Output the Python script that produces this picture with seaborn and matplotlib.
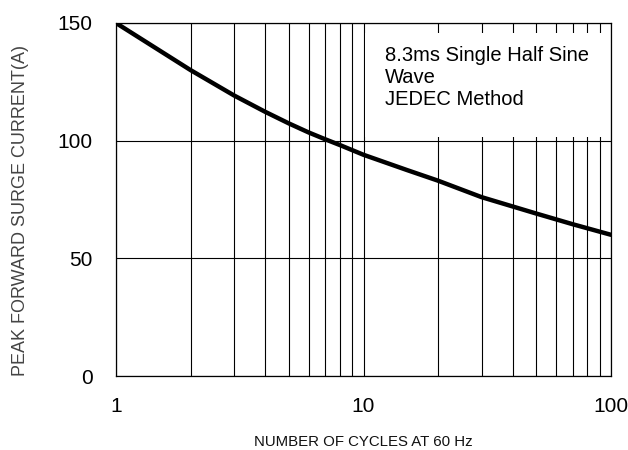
import pandas as pd
import matplotlib
matplotlib.use("Agg")
import matplotlib.pyplot as plt
import seaborn as sns
from matplotlib.patches import Rectangle
from matplotlib.ticker import FixedLocator, LogLocator, NullFormatter

# данные
cycles = [1, 2, 3, 4, 5, 6, 7, 8, 10, 15, 20, 30, 50, 70, 100]
current = [150, 130, 119.2, 112.3, 107.3, 103.5, 100.6, 98.2, 94, 87.5, 83, 76, 69, 64.5, 60]
x_ticks = [1, 10, 100]
x_tick_labels = ["1", "10", "100"]
y_ticks = [0, 50, 100, 150]
note = "8.3ms Single Half Sine\nWave\nJEDEC Method"

sns.set_style("white")
plt.rcParams["font.family"] = ["Liberation Sans", "DejaVu Sans"]

df = pd.DataFrame({"cycles": cycles, "current": current})

fig = plt.figure(figsize=(6.28, 4.5), dpi=100)
ax = fig.add_axes([116 / 628, 74 / 450, 495 / 628, 353 / 450])

ax.set_xscale("log")
ax.set_xlim(1, 100)
ax.set_ylim(0, 150)
ax.xaxis.set_major_locator(FixedLocator(x_ticks))
ax.xaxis.set_minor_locator(LogLocator(base=10, subs=range(2, 10)))
ax.xaxis.set_minor_formatter(NullFormatter())
ax.set_xticks(x_ticks)
ax.set_xticklabels(x_tick_labels)
ax.set_yticks(y_ticks)
ax.grid(True, which="both", axis="x", color="black", linewidth=0.8)
ax.grid(True, which="major", axis="y", color="black", linewidth=0.8)
ax.set_axisbelow(True)

# белая подложка под подписью (перекрывает сетку)
ax.add_patch(Rectangle((0.503, 0.678), 0.49, 0.294, transform=ax.transAxes,
                       facecolor="white", edgecolor="none", zorder=2))

sns.lineplot(data=df, x="cycles", y="current", color="black", linewidth=3.2, ax=ax, zorder=4)

for s in ax.spines.values():
    s.set_color("black")
    s.set_linewidth(0.9)

ax.tick_params(axis="both", which="both", length=0, labelsize=15, labelcolor="black")
ax.tick_params(axis="x", pad=15)
ax.tick_params(axis="y", pad=17)

ax.set_xlabel("NUMBER OF CYCLES AT 60 Hz", fontsize=10.8, color="#111111", labelpad=14)
ax.set_ylabel("PEAK FORWARD SURGE CURRENT(A)", fontsize=13, color="#444444", labelpad=24)
ax.yaxis.set_label_coords(-0.175, 0.47)

ax.text(0.543, 0.935, note, transform=ax.transAxes, ha="left", va="top",
        fontsize=14.5, linespacing=1.2, zorder=3, color="black")

fig.savefig("out.png", dpi=100)
